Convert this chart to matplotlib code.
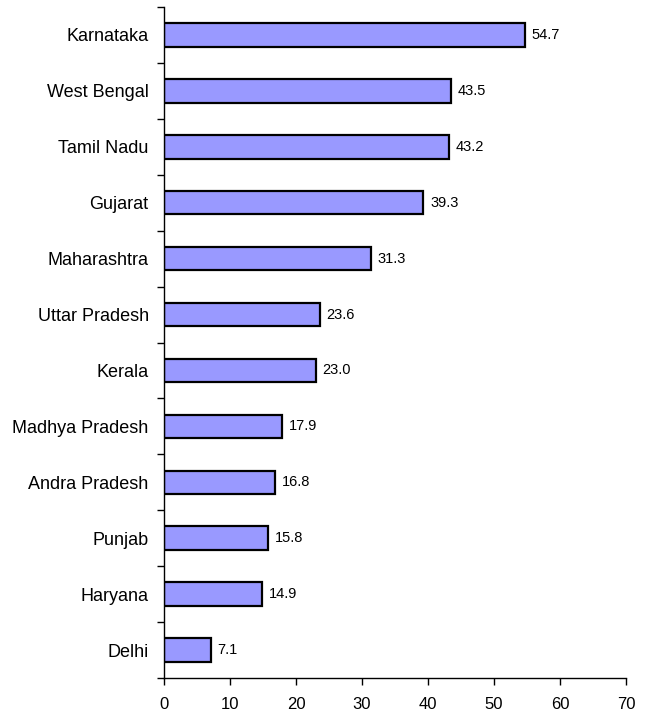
import matplotlib
matplotlib.use("Agg")
import matplotlib.pyplot as plt
import numpy as np

states = ["Karnataka", "West Bengal", "Tamil Nadu", "Gujarat", "Maharashtra",
          "Uttar Pradesh", "Kerala", "Madhya Pradesh", "Andra Pradesh",
          "Punjab", "Haryana", "Delhi"]
values = [54.7, 43.5, 43.2, 39.3, 31.3, 23.6, 23.0, 17.9, 16.8, 15.8, 14.9, 7.1]
xticks = [0, 10, 20, 30, 40, 50, 60, 70]

plt.rcParams['font.family'] = ['Liberation Sans', 'DejaVu Sans']

fig = plt.figure(figsize=(6.5, 7.15), dpi=100)
ax = fig.add_axes([164/650, 37/715, (626-164)/650, (678-7)/715])

n = len(states)
y = np.arange(n)[::-1]
ax.barh(y, values, height=0.42, color="#9999FF", edgecolor="black", linewidth=1.6)
for yi, v in zip(y, values):
    ax.text(v + 1.0, yi, f"{v:.1f}", va="center", ha="left", fontsize=10.5)

ax.set_xlim(0, 70)
ax.set_ylim(-0.5, n - 0.5)
ax.set_xticks(xticks)
ax.set_xticklabels([str(t) for t in xticks], fontsize=12)
ax.set_yticks(y)
ax.set_yticklabels(states, fontsize=13)
ax.tick_params(axis='y', which='major', length=0, pad=11)
ax.set_yticks(np.arange(-0.5, n, 1.0), minor=True)
ax.tick_params(axis='y', which='minor', length=5, width=1, direction='out')
ax.tick_params(axis='x', which='major', length=5, width=1, direction='out', pad=9)
for s in ["top", "right"]:
    ax.spines[s].set_visible(False)
ax.spines["left"].set_linewidth(1)
ax.spines["bottom"].set_linewidth(1)

fig.savefig("out.png", dpi=100)
